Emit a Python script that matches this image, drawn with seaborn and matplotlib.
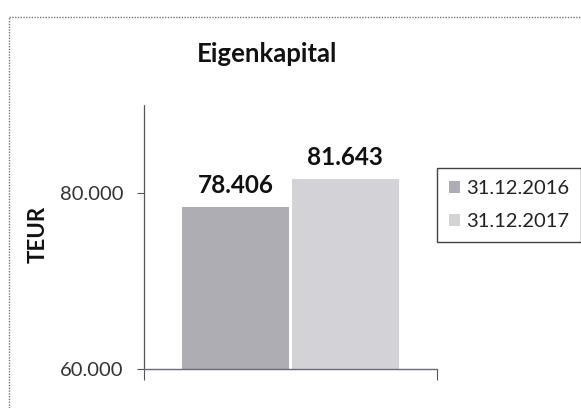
import matplotlib
matplotlib.use("Agg")
import matplotlib.pyplot as plt
from matplotlib.lines import Line2D
from matplotlib.patches import Patch
import seaborn as sns
import pandas as pd

# Equity at the two balance sheet dates (TEUR)
categories = ["Eigenkapital"]
dates = ["31.12.2016", "31.12.2017"]
values = [78406, 81643]
value_labels = ["78.406", "81.643"]
y_ticks = [60000, 80000]
y_tick_labels = ["60.000", "80.000"]

colors = ["#adadb3", "#d3d3d7"]

df = pd.DataFrame({
    "Posten": categories * len(dates),
    "Stichtag": dates,
    "TEUR": values,
})

sns.set_theme(style="white")
plt.rcParams["font.family"] = ["Lato", "DejaVu Sans"]

W, H = 581, 408
fig = plt.figure(figsize=(W / 100, H / 100), dpi=100)
ax = fig.add_axes([144 / W, 1 - 369 / H, (437 - 144) / W, (369 - 105) / H])

sns.barplot(data=df, x="Posten", y="TEUR", hue="Stichtag", hue_order=dates,
            palette=colors, width=0.75, gap=0.02, saturation=1,
            edgecolor="none", linewidth=0, ax=ax, legend=False)

ax.set_ylim(60000, 90000)
ax.set_xlim(-0.5, 0.5)
ax.set_yticks(y_ticks)
ax.set_yticklabels(y_tick_labels, fontsize=14.5, color="#333333")
ax.set_xticks([-0.5, 0.5])
ax.set_xticklabels(["", ""])
ax.tick_params(axis="y", direction="out", length=5, width=0.8, color="#555555", pad=10, left=True)
ax.tick_params(axis="x", direction="out", length=8, width=0.8, color="#555555", bottom=True)
ax.set_xlabel("")
ax.set_ylabel("")

for side in ["top", "right"]:
    ax.spines[side].set_visible(False)
ax.spines["left"].set_linestyle((0, (1, 1)))
ax.spines["left"].set_color("#555555")
ax.spines["left"].set_linewidth(0.9)
ax.spines["bottom"].set_color("#6a6a78")
ax.spines["bottom"].set_linewidth(1.0)

# value labels above each bar
for bar, txt in zip(ax.patches, value_labels):
    ax.annotate(txt, (bar.get_x() + bar.get_width() / 2, bar.get_height()),
                xytext=(0, 7), textcoords="offset points", ha="center", va="bottom",
                fontsize=17.5, fontweight="bold", color="#111111")

fig.text(267 / W, 1 - 54 / H, "Eigenkapital", ha="center", va="center",
         fontsize=18.5, fontweight="bold", color="#111111")
fig.text(38 / W, 1 - 234 / H, "TEUR", ha="center", va="center", rotation=90,
         fontsize=16, fontweight="bold", color="#111111")

handles = [Patch(facecolor=c, edgecolor="none") for c in colors]
leg = fig.legend(handles, dates, loc="upper left", bbox_to_anchor=(437 / W, 1 - 168 / H),
                 fontsize=14.5, frameon=True, fancybox=False, handlelength=0.55,
                 handleheight=0.55, handletextpad=0.3, labelspacing=0.8,
                 borderpad=0.6, borderaxespad=0)
leg.get_frame().set_edgecolor("#111111")
leg.get_frame().set_linewidth(1.0)
for t in leg.get_texts():
    t.set_color("#222222")

# dotted chart-area border along the top and left edges
fig.add_artist(Line2D([9 / W, 1.0], [1 - 17 / H, 1 - 17 / H], transform=fig.transFigure,
                      color="#777777", linestyle=(0, (1, 1)), linewidth=1.0))
fig.add_artist(Line2D([9 / W, 9 / W], [0.0, 1 - 17 / H], transform=fig.transFigure,
                      color="#777777", linestyle=(0, (1, 1)), linewidth=1.0))

fig.savefig("out.png", dpi=100)
